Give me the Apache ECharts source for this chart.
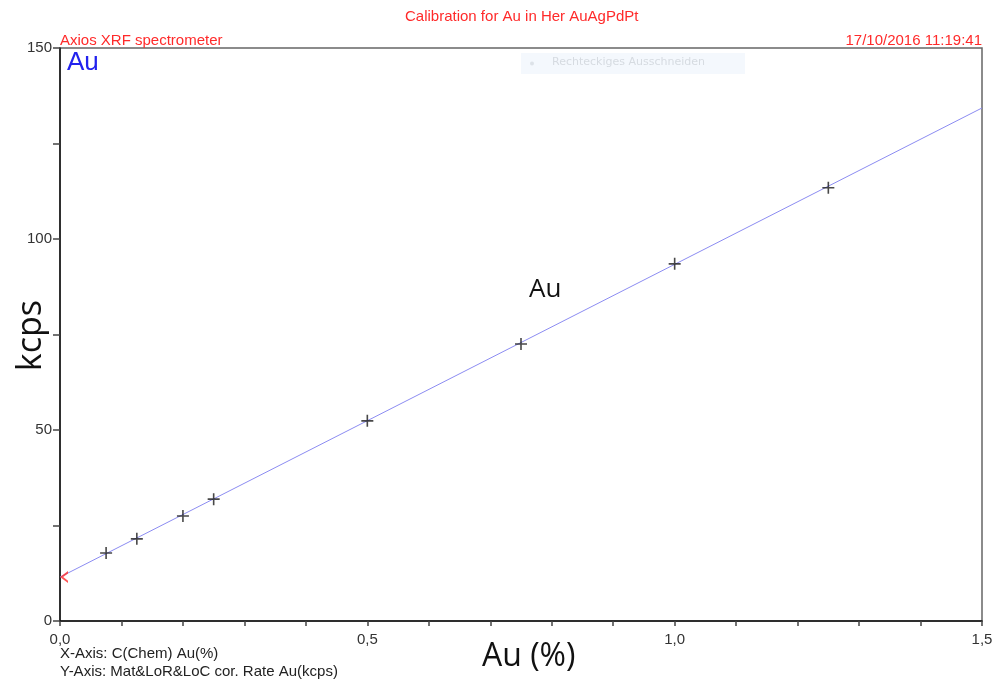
<!DOCTYPE html>
<html>
<head>
<meta charset="utf-8">
<script src="https://cdn.jsdelivr.net/npm/echarts@6/dist/echarts.min.js"></script>
<style>
  html, body { margin: 0; padding: 0; background: #fff; }
  #main { width: 994px; height: 682px; }
</style>
</head>
<body>
<div id="main"></div>
<script>
  // Kalibrierpunkte (Au %, kcps)
  var conc = [0.075, 0.125, 0.2, 0.25, 0.5, 0.75, 1.0, 1.25];
  var rate = [17.8, 21.5, 27.5, 31.9, 52.4, 72.5, 93.5, 113.4];
  var fitX = [0, 1.5];
  var fitY = [11.5, 134.3];

  var chart = echarts.init(document.getElementById('main'));

  var points = conc.map(function (c, i) { return [c, rate[i]]; });
  var fitLine = fitX.map(function (x, i) { return [x, fitY[i]]; });

  var crossPath = 'path://M0,5.2h12v1.6h-12z M5.2,0h1.6v12h-1.6z';
  var arrowPath = 'path://M8,0 L0,6 L8,12 L8,9.6 L3.2,6 L8,2.4 Z';

  var option = {
    animation: false,
    backgroundColor: '#fff',
    textStyle: { fontFamily: 'Liberation Sans' },
    grid: {
      left: 60, right: 12, top: 48, bottom: 61,
      outerBoundsMode: 'none',
      show: true,
      borderColor: '#666',
      borderWidth: 1.5
    },
    xAxis: {
      type: 'value',
      min: 0, max: 1.5, interval: 0.5,
      axisLine: { show: true, lineStyle: { color: '#111', width: 1.5 } },
      axisTick: { show: true, length: 5, lineStyle: { color: '#444', width: 1.5 } },
      minorTick: { show: true, splitNumber: 5, length: 5, lineStyle: { color: '#444', width: 1.5 } },
      splitLine: { show: false },
      axisLabel: {
        color: '#333', fontSize: 15, margin: 11,
        formatter: function (v) { return v.toFixed(1).replace('.', ','); }
      }
    },
    yAxis: {
      type: 'value',
      min: 0, max: 150, interval: 50,
      axisLine: { show: true, lineStyle: { color: '#111', width: 1.5 } },
      axisTick: { show: true, length: 7, lineStyle: { color: '#444', width: 1.5 } },
      minorTick: { show: true, splitNumber: 2, length: 7, lineStyle: { color: '#444', width: 1.5 } },
      splitLine: { show: false },
      axisLabel: { color: '#333', fontSize: 15, margin: 8 }
    },
    series: [
      {
        name: 'Kalibrierung',
        type: 'line',
        data: fitLine,
        showSymbol: false,
        lineStyle: { color: '#8c8cf2', width: 1 },
        z: 2
      },
      {
        name: 'Standards',
        type: 'scatter',
        data: points,
        symbol: crossPath,
        symbolSize: 12,
        itemStyle: { color: '#1a1a1a' },
        z: 3
      },
      {
        name: 'Offset',
        type: 'scatter',
        data: [[fitX[0], fitY[0]]],
        symbol: arrowPath,
        symbolSize: [8, 12],
        symbolOffset: [4, 0],
        itemStyle: { color: '#ff2a2a' },
        z: 4
      }
    ],
    graphic: [
      { type: 'text', left: 405, top: 9,
        style: { text: 'Calibration for Au in Her AuAgPdPt', fill: '#ff2a2a', fontSize: 15, fontFamily: 'Liberation Sans' } },
      { type: 'text', left: 60, top: 33,
        style: { text: 'Axios XRF spectrometer', fill: '#ff2a2a', fontSize: 15, fontFamily: 'Liberation Sans' } },
      { type: 'text', right: 12, top: 33,
        style: { text: '17/10/2016 11:19:41', fill: '#ff2a2a', fontSize: 15, fontFamily: 'Liberation Sans' } },
      { type: 'text', left: 67, top: 50,
        style: { text: 'Au', fill: '#2222ee', fontSize: 26, fontFamily: 'Liberation Sans' } },
      { type: 'group', left: 521, top: 53, children: [
        { type: 'rect', shape: { x: 0, y: 0, width: 224, height: 21 }, style: { fill: '#f4f8fd' } },
        { type: 'circle', shape: { cx: 11, cy: 10.5, r: 2 }, style: { fill: '#dde2e8' } },
        { type: 'text', x: 31, y: 4, style: { text: 'Rechteckiges Ausschneiden', fill: '#d6dbe1', fontSize: 11, fontFamily: 'DejaVu Sans' } }
      ] },
      { type: 'text', left: 529, top: 277,
        style: { text: 'Au', fill: '#111', fontSize: 26, fontFamily: 'Open Sans' } },
      { type: 'text', left: 14, top: 300, rotation: Math.PI / 2, originX: 0, originY: 0,
        style: { text: 'kcps', fill: '#111', fontSize: 34, fontFamily: 'Open Sans' } },
      { type: 'text', left: 482, top: 641,
        style: { text: 'Au (%)', fill: '#111', fontSize: 32, fontFamily: 'Open Sans' } },
      { type: 'text', left: 60, top: 646,
        style: { text: 'X-Axis: C(Chem) Au(%)', fill: '#222', fontSize: 15, fontFamily: 'Liberation Sans' } },
      { type: 'text', left: 60, top: 664,
        style: { text: 'Y-Axis: Mat&LoR&LoC cor. Rate Au(kcps)', fill: '#222', fontSize: 15, fontFamily: 'Liberation Sans' } }
    ]
  };

  chart.setOption(option);
</script>
</body>
</html>
